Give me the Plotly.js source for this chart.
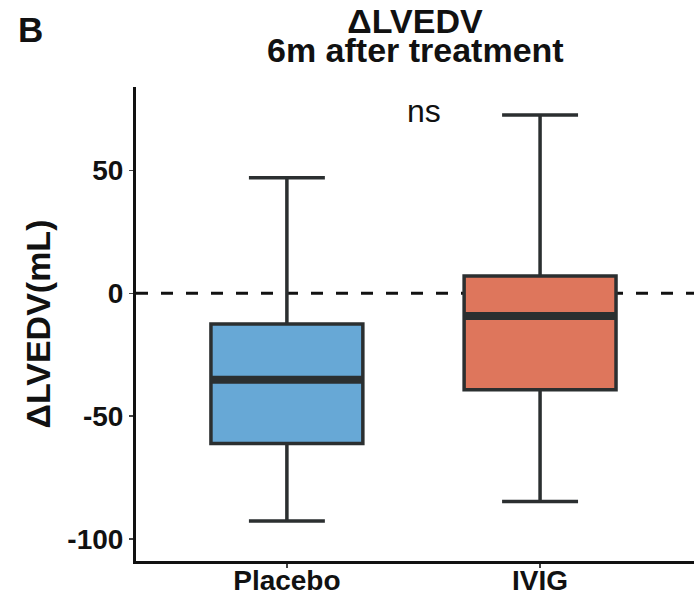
<!DOCTYPE html>
<html>
<head>
<meta charset="utf-8">
<script src="https://cdn.plot.ly/plotly-3.0.1.min.js"></script>
<style>html,body{margin:0;padding:0;background:#fff;}#chart{width:694px;height:597px;}</style>
</head>
<body>
<div id="chart"></div>
<script>
// ---- data ----
const groups = ['Placebo', 'IVIG'];
const lowerWhisker = [-92.6, -84.7];
const q1Values = [-61.1, -39.2];
const medianValues = [-35.2, -9.2];
const q3Values = [-12.5, 7.0];
const upperWhisker = [47.0, 72.5];
const fillColors = ['#67a8d6', '#de765c'];
const yTicks = [-100, -50, 0, 50];
const refLineValue = 0;
const sigLabel = 'ns';
const titleLine1 = '\u0394LVEDV';
const titleLine2 = '6m after treatment';

const FONT = 'Liberation Sans, Arial, Helvetica, sans-serif';
const LINE = '#2b2f30';
const BOXW = 0.6;

const traces = groups.map((g, i) => ({
  type: 'box',
  x: [g],
  q1: [q1Values[i]],
  median: [medianValues[i]],
  q3: [q3Values[i]],
  lowerfence: [lowerWhisker[i]],
  upperfence: [upperWhisker[i]],
  boxpoints: false,
  width: BOXW,
  whiskerwidth: 0.5,
  fillcolor: fillColors[i],
  line: {color: LINE, width: 3.5},
  showlegend: false,
  hoverinfo: 'skip'
}));

const shapes = [{
  type: 'line', xref: 'paper', x0: 0, x1: 1, yref: 'y', y0: refLineValue, y1: refLineValue,
  line: {color: '#111', width: 3, dash: '12px,13px'}, layer: 'below'
}].concat(groups.map((g, i) => ({
  type: 'line', xref: 'x', yref: 'y',
  x0: i - BOXW / 2, x1: i + BOXW / 2, y0: medianValues[i], y1: medianValues[i],
  line: {color: LINE, width: 8}, layer: 'above'
})));

const layout = {
  width: 694, height: 597,
  margin: {l: 136, r: 0, t: 87, b: 36},
  paper_bgcolor: '#fff', plot_bgcolor: '#fff',
  title: {
    text: titleLine1,
    font: {family: FONT, size: 34, weight: 'bold', color: '#111'},
    x: 0.5, xref: 'paper', xanchor: 'center',
    y: 0.965, yref: 'container', yanchor: 'middle'
  },
  xaxis: {
    type: 'category', categoryarray: groups, categoryorder: 'array',
    range: [-0.596, 1.608],
    showline: true, linecolor: '#111', linewidth: 3,
    ticks: 'outside', ticklen: 4, tickwidth: 1.5, tickcolor: '#444',
    ticklabelstandoff: -12,
    showgrid: false, zeroline: false,
    tickfont: {family: FONT, size: 28, weight: 'bold', color: '#111'}
  },
  yaxis: {
    range: [-108.9, 83.9],
    tickvals: yTicks, ticktext: yTicks.map(String),
    showline: true, linecolor: '#111', linewidth: 3,
    ticks: 'outside', ticklen: 4, tickwidth: 1.5, tickcolor: '#444',
    showgrid: false, zeroline: false,
    tickfont: {family: FONT, size: 28, weight: 'bold', color: '#111'},
    title: {text: '\u0394LVEDV(mL)', font: {family: FONT, size: 34, weight: 'bold', color: '#111'}, standoff: 7}
  },
  shapes: shapes,
  annotations: [
    {text: titleLine2, xref: 'paper', yref: 'paper', x: 0.5, y: 1.078, xanchor: 'center', yanchor: 'middle',
     showarrow: false, font: {family: FONT, size: 34, weight: 'bold', color: '#111'}},
    {text: 'B', xref: 'paper', yref: 'paper', x: -0.215, y: 1.121, xanchor: 'left', yanchor: 'middle',
     showarrow: false, font: {family: FONT, size: 35, weight: 'bold', color: '#111'}},
    {text: sigLabel, xref: 'x', yref: 'y', x: 0.54, y: 74, xanchor: 'center', yanchor: 'middle',
     showarrow: false, font: {family: FONT, size: 32, color: '#111'}}
  ]
};

Plotly.newPlot('chart', traces, layout, {displayModeBar: false, staticPlot: true});
</script>
</body>
</html>
